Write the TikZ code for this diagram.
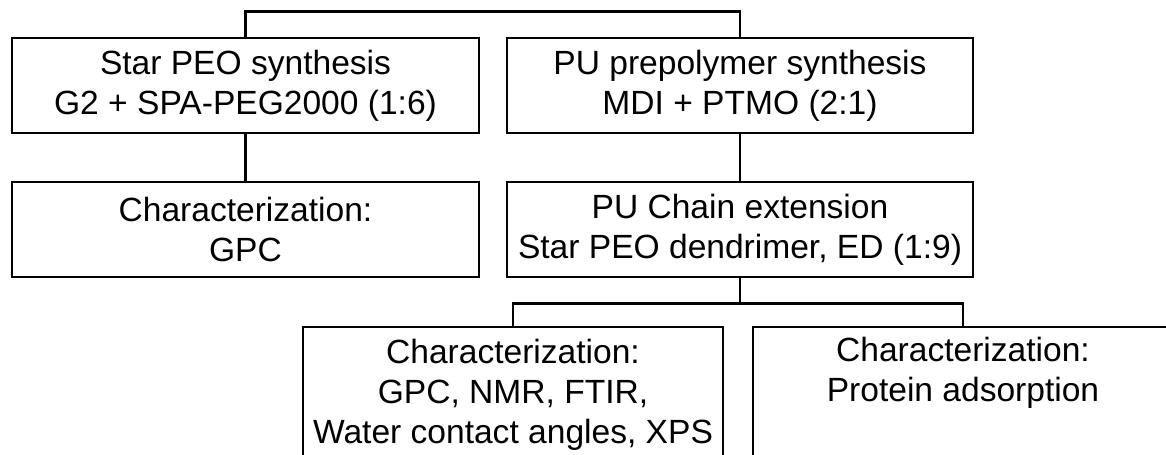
\documentclass[tikz,border=0pt]{standalone}
\usepackage{fontspec}
\setmainfont{Liberation Sans}

\begin{document}
\begin{tikzpicture}[
    stepbox/.style = {
        draw,
        rectangle,
        align = center,
        inner sep = 0pt,
        line width = 1.5pt,
        minimum height = 1.9cm,
        font = \fontsize{19.1}{22.8}\selectfont
    },
    link/.style = {
        line width = 1.5pt
    }
]

% Frame
\useasboundingbox (0,0) rectangle (23.32,9.08);
\clip (0,0) rectangle (23.32,9.08);

% Synthesis (top row)
\node[stepbox, minimum width = 9.34cm] (peo) at (4.91, 7.37) {Star PEO synthesis\\G2 + SPA-PEG2000 (1:6)};
\node[stepbox, minimum width = 9.32cm] (prepoly) at (14.80, 7.37) {PU prepolymer synthesis\\MDI + PTMO (2:1)};

% Second row
\node[stepbox, minimum width = 9.34cm] (gpc) at (4.91, 4.49) {Characterization:\\GPC};
\node[stepbox, minimum width = 9.32cm] (chainext) at (14.80, 4.49) {PU Chain extension\\Star PEO dendrimer, ED (1:9)};

% Characterization of the product
\node[stepbox, minimum width = 8.4cm, minimum height = 2.72cm] (charA) at (10.26, 1.18) {Characterization:\\GPC, NMR, FTIR,\\Water contact angles, XPS};
\node[stepbox, minimum width = 8.4cm, minimum height = 2.72cm] (charB) at (19.26, 1.18) {Characterization:\\Protein adsorption\\\strut};

% Connectors
\draw[link] (peo.north) -- ++(0,0.5) -| (prepoly.north);
\draw[link] (peo.south) -- (gpc.north);
\draw[link] (prepoly.south) -- (chainext.north);
\draw[link] (chainext.south) -- ++(0,-0.5) coordinate (fork);
\draw[link] (charA.north) |- (fork) -| (charB.north);

\end{tikzpicture}
\end{document}
